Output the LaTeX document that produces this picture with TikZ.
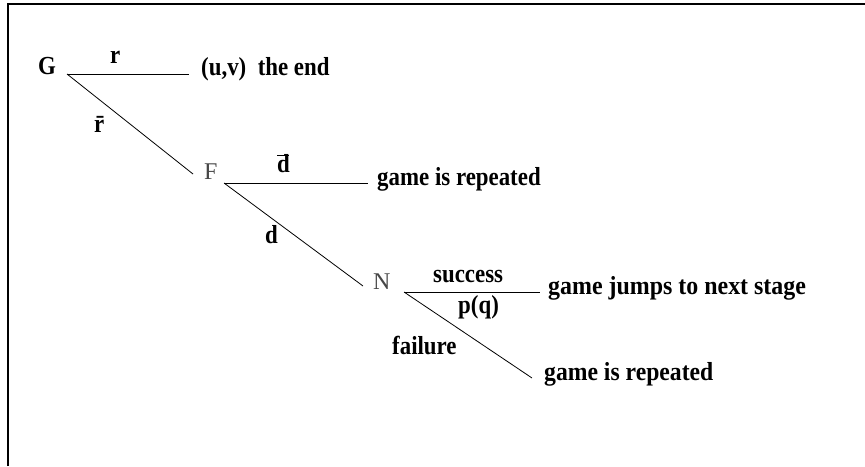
\documentclass[tikz,border=0pt]{standalone}
\usepackage{graphicx}
\usepackage{fontspec}
\setmainfont{Liberation Serif}
\newcommand{\dbarx}{\makebox[0pt][l]{\raisebox{0.6em}{\rule{0.5em}{0.07em}}}d}
\newcommand{\nrw}[2][0.88]{\scalebox{#1}[1]{#2}}
\begin{document}
\begin{tikzpicture}[x=1pt,y=-1pt,
  lbl/.style={font=\fontsize{26}{30}\selectfont\bfseries, inner sep=0pt, anchor=base west},
  st/.style={font=\fontsize{24}{28}\selectfont, text=black!72, inner sep=0pt, anchor=base west},
  br/.style={line width=0.8pt}]
\useasboundingbox (0,0) rectangle (865,466);
\draw[line width=1.5pt] (8,466) -- (8,4) -- (865,4);
% decision nodes
\node[lbl] (G) at (38,74) {\nrw{G}};
\node[st] (F) at (204,179) {F};
\node[st] (N) at (373,289) {N};
% branch points
\coordinate (g0) at (67,74);
\coordinate (gr) at (189,74);
\coordinate (gf) at (193,174);
\coordinate (f0) at (224,183);
\coordinate (fd) at (368,183);
\coordinate (fn) at (363,286);
\coordinate (n0) at (404,292);
\coordinate (ns) at (540,292);
\coordinate (nf) at (532,378);
% branches
\draw[br] (g0) -- (gr);
\draw[br] (g0) -- (gf);
\draw[br] (f0) -- (fd);
\draw[br] (f0) -- (fn);
\draw[br] (n0) -- (ns);
\draw[br] (n0) -- (nf);
% outcomes
\node[lbl] (o1) at (201,75) {\nrw{(u,v)\ \ the end}};
\node[lbl] (o2) at (377,185) {\nrw{game is repeated}};
\node[lbl] (o3) at (548,294) {\nrw[0.92]{game jumps to next stage}};
\node[lbl] (o4) at (544,380) {\nrw[0.91]{game is repeated}};
% branch labels
\node[lbl] (lr) at (110,63) {\nrw{r}};
\node[lbl] (lrb) at (94,132) {\nrw{\=r}};
\node[lbl] (ldb) at (277,172) {\nrw{\dbarx}};
\node[lbl] (ld) at (265,243) {\nrw{d}};
\node[lbl] (ls) at (433,282) {\nrw{success}};
\node[lbl] (lp) at (458,313) {\nrw{p(q)}};
\node[lbl] (lf) at (392,354) {\nrw{failure}};
\end{tikzpicture}
\end{document}
